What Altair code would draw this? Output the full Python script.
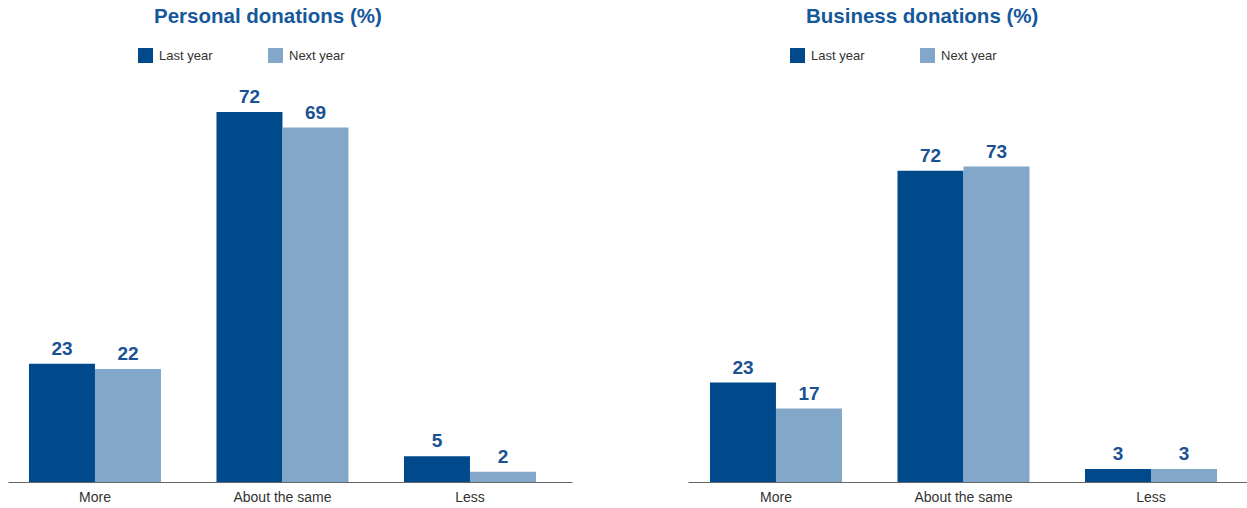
import altair as alt
import pandas as pd

categories = ["More", "About the same", "Less"]
series = ["Last year", "Next year"]
personal_last = [23, 72, 5]
personal_next = [22, 69, 2]
business_last = [23, 72, 3]
business_next = [17, 73, 3]
colors = ["#004a8c", "#83a7c9"]
FONT = "Liberation Sans"


def frame(last, nxt):
    rows = []
    for c, a, b in zip(categories, last, nxt):
        rows.append({"category": c, "series": series[0], "value": a})
        rows.append({"category": c, "series": series[1], "value": b})
    return pd.DataFrame(rows)


def panel(df, title, ymax, width, pad_outer, align, dx, legend_x):
    x = alt.X(
        "category:N", sort=categories, title=None,
        scale=alt.Scale(paddingInner=0.296, paddingOuter=pad_outer, align=align),
        axis=alt.Axis(labelAngle=0, ticks=False, domainColor="#666666", domainWidth=1.2,
                      labelColor="#333333", labelFontSize=14, labelFont=FONT,
                      labelPadding=8, grid=False),
    )
    xo = alt.XOffset("series:N", sort=series,
                     scale=alt.Scale(paddingInner=0, paddingOuter=0))
    y = alt.Y("value:Q", scale=alt.Scale(domain=[0, ymax], nice=False, zero=True), axis=None)
    bars = alt.Chart(df).mark_bar().encode(
        x=x, xOffset=xo, y=y,
        color=alt.Color(
            "series:N",
            scale=alt.Scale(domain=series, range=colors),
            legend=alt.Legend(
                title=None, orient="none", legendX=legend_x, legendY=-23,
                direction="horizontal", symbolType="square", symbolSize=225,
                symbolStrokeWidth=0, labelFontSize=13, labelColor="#333333",
                labelFont=FONT, labelOffset=6, columnPadding=55, padding=0,
            ),
        ),
    )
    labels = alt.Chart(df).mark_text(
        dy=-9, baseline="alphabetic", fontSize=19, fontWeight="bold",
        color="#1a5193", font=FONT,
    ).encode(x=x, xOffset=xo, y=y, text="value:Q")
    return alt.layer(bars, labels).properties(
        width=width, height=411,
        title=alt.TitleParams(title, anchor="start", dx=dx, fontSize=20.5,
                              fontWeight="bold", color="#15589b", font=FONT, offset=21),
    )


left = panel(frame(personal_last, personal_next), "Personal donations (%)",
             80, 564, 0.152, 0.368, 146, 130)
right = panel(frame(business_last, business_next), "Business donations (%)",
              95.1, 559, 0.1385, 0.423, 118, 102)

chart = alt.hconcat(left, right, spacing=116).resolve_scale(
    color="independent", y="independent", x="independent"
).properties(
    padding={"left": 8, "top": 6, "right": 0, "bottom": 0}
).configure(background="white").configure_view(strokeWidth=0)

chart.save("out.html", embed_options={"renderer": "svg", "actions": False})
